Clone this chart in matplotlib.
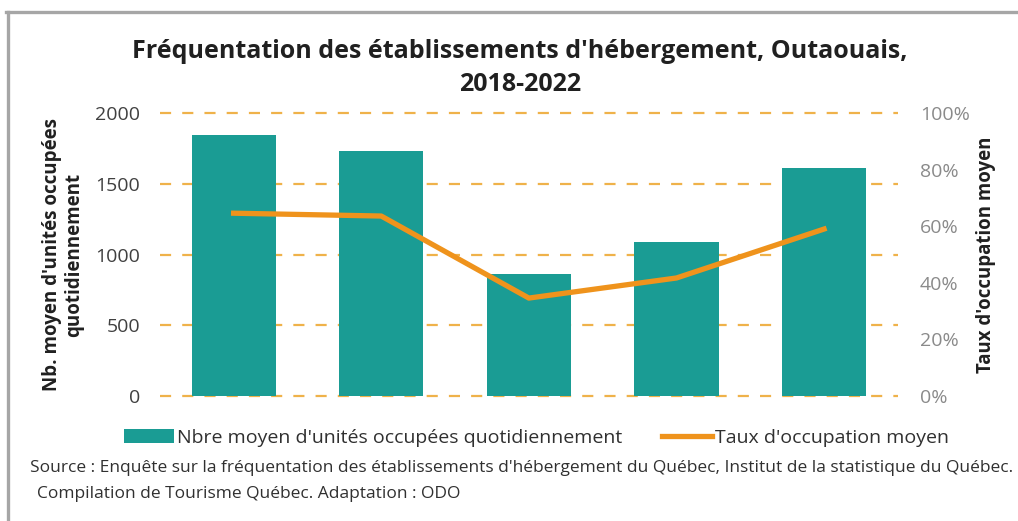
import matplotlib.pyplot as plt
from matplotlib.lines import Line2D
from matplotlib.patches import Patch
from matplotlib.ticker import FuncFormatter

# Données
annees = ['2018', '2019', '2020', '2021', '2022']
unites = [1845, 1734, 862, 1090, 1611]
taux = [0.646, 0.636, 0.346, 0.417, 0.590]

plt.rcParams['font.family'] = ['Open Sans', 'DejaVu Sans']

fig = plt.figure(figsize=(10.18, 5.21), dpi=100)
ax1 = fig.add_axes([0.157, 0.240, 0.725, 0.543])

x = range(len(annees))
ax1.bar(x, unites, width=0.57, color='#1a9c94', zorder=2)
ax1.set_xlim(-0.5, 4.5)
ax1.set_ylim(0, 2000)
ax1.set_yticks([0, 500, 1000, 1500, 2000])
ax1.set_xticks([])
ax1.grid(axis='y', color='#efb24a', linestyle=(0, (5, 5)), linewidth=1.6, zorder=0)
for gl in ax1.get_ygridlines():
    gl.set_clip_on(False)
ax1.tick_params(axis='y', length=0, pad=14, labelsize=14, labelcolor='#404040')
for s in ax1.spines.values():
    s.set_visible(False)
ax1.set_ylabel("Nb. moyen d'unités occupées\nquotidiennement", fontsize=13.5,
               fontweight='bold', color='#202020', linespacing=1.15)
ax1.yaxis.set_label_coords(-0.103, 0.5)

# Axe secondaire : taux d'occupation
ax2 = ax1.twinx()
ax2.plot(x, taux, color='#ef931c', linewidth=3.8, solid_joinstyle='round', zorder=3)
ax2.set_ylim(0, 1)
ax2.set_yticks([0, 0.2, 0.4, 0.6, 0.8, 1.0])
ax2.yaxis.set_major_formatter(FuncFormatter(lambda v, p: f"{v*100:.0f}%"))
ax2.tick_params(axis='y', length=0, pad=16, labelsize=14, labelcolor='#8a8a8a')
for s in ax2.spines.values():
    s.set_visible(False)
ax2.set_ylabel("Taux d'occupation moyen", fontsize=13.4, fontweight='bold',
               color='#202020', rotation=90)
ax2.yaxis.set_label_coords(1.106, 0.5)

fig.text(0.511, 1 - 68 / 521, "Fréquentation des établissements d'hébergement, Outaouais,\n2018-2022",
         ha='center', va='center', fontsize=18, fontweight='bold', color='#202020',
         linespacing=1.45)

handles = [Patch(facecolor='#1a9c94', edgecolor='none'),
           Line2D([0], [0], color='#ef931c', linewidth=3.8)]
fig.legend(handles, ["Nbre moyen d'unités occupées quotidiennement", "Taux d'occupation moyen"],
           loc='center', bbox_to_anchor=(0.527, 1 - 438 / 521), ncol=2, frameon=False,
           fontsize=14, handlelength=2.6, handleheight=0.75, handletextpad=0.15,
           columnspacing=2.0, labelcolor='#303030')

fig.text(0.029, 1 - 468 / 521,
         "Source : Enquête sur la fréquentation des établissements d'hébergement du Québec, "
         "Institut de la statistique du Québec.",
         ha='left', va='center', fontsize=12.5, color='#303030')
fig.text(0.036, 1 - 494 / 521, "Compilation de Tourisme Québec. Adaptation : ODO",
         ha='left', va='center', fontsize=12.5, color='#303030')

# Cadre gris (haut et gauche)
fig.add_artist(Line2D([6 / 1018, 1], [1 - 12 / 521, 1 - 12 / 521], color='#a6a6a6', linewidth=2.4,
                      transform=fig.transFigure))
fig.add_artist(Line2D([8 / 1018, 8 / 1018], [0, 1 - 12 / 521], color='#a6a6a6', linewidth=2.4,
                      transform=fig.transFigure))

fig.savefig('out.png', dpi=100)
